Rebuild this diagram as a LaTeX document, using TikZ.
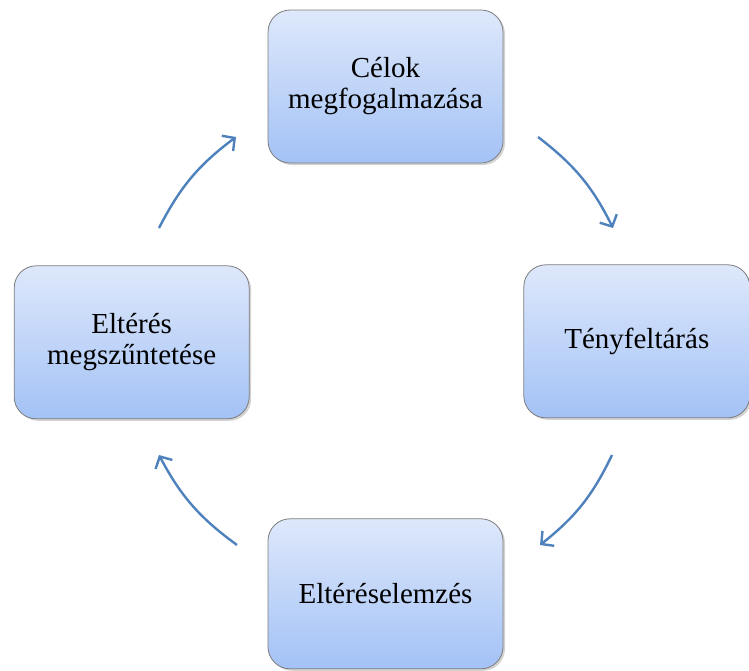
\documentclass[tikz,border=0pt]{standalone}
\usepackage{fontspec}
\setmainfont{Liberation Serif}
\usepackage{tikz,xcolor}
\usetikzlibrary{arrows.meta,positioning,shadows}

\definecolor{boxtop}{RGB}{222,232,251}
\definecolor{boxbot}{RGB}{163,194,246}
\definecolor{boxline}{RGB}{125,125,125}
\definecolor{cyclearrow}{RGB}{79,129,189}

\begin{document}
\begin{tikzpicture}[x=1pt,y=1pt,>={Straight Barb[length=9pt,width=19pt]},
  stage/.style={shape=rectangle,draw=boxline,line width=0.8pt,rounded corners=22pt,
    top color=boxtop,bottom color=boxbot,
    drop shadow={shadow xshift=2pt,shadow yshift=-2pt,opacity=0.35},
    minimum width=235pt,minimum height=153pt,inner sep=0pt,align=center,
    font=\fontsize{29}{31}\selectfont},
  cycle/.style={->,draw=cyclearrow,line width=2.4pt}]
	\useasboundingbox (0,0) rectangle (749,-670);

	% the four stages
	\node (celok)[stage] at (385.5,-86.5) {Célok\\megfogalmazása};
	\node (teny)[stage, below right = 101pt and 20pt of celok, minimum width=226pt] {Tényfeltárás};
	\node (elter)[stage, below = 355pt of celok, minimum height=150pt] {Eltéréselemzés};
	\node (megsz)[stage, below left = 102pt and 18pt of celok] {Eltérés\\megszűntetése};

	% ends of the arrows
	\coordinate (a1s) at (538,-137);
	\coordinate (a1e) at (613,-228);
	\coordinate (a2s) at (612,-455);
	\coordinate (a2e) at (540,-545);
	\coordinate (a3s) at (237,-545);
	\coordinate (a3e) at (159,-455);
	\coordinate (a4s) at (159,-228);
	\coordinate (a4e) at (236,-137);

	% the cycle
	\draw[cycle] (a1s) to[bend left=13] (a1e);
	\draw[cycle] (a2s) to[bend left=13] (a2e);
	\draw[cycle] (a3s) to[bend left=13] (a3e);
	\draw[cycle] (a4s) to[bend left=13] (a4e);

\end{tikzpicture}
\end{document}
